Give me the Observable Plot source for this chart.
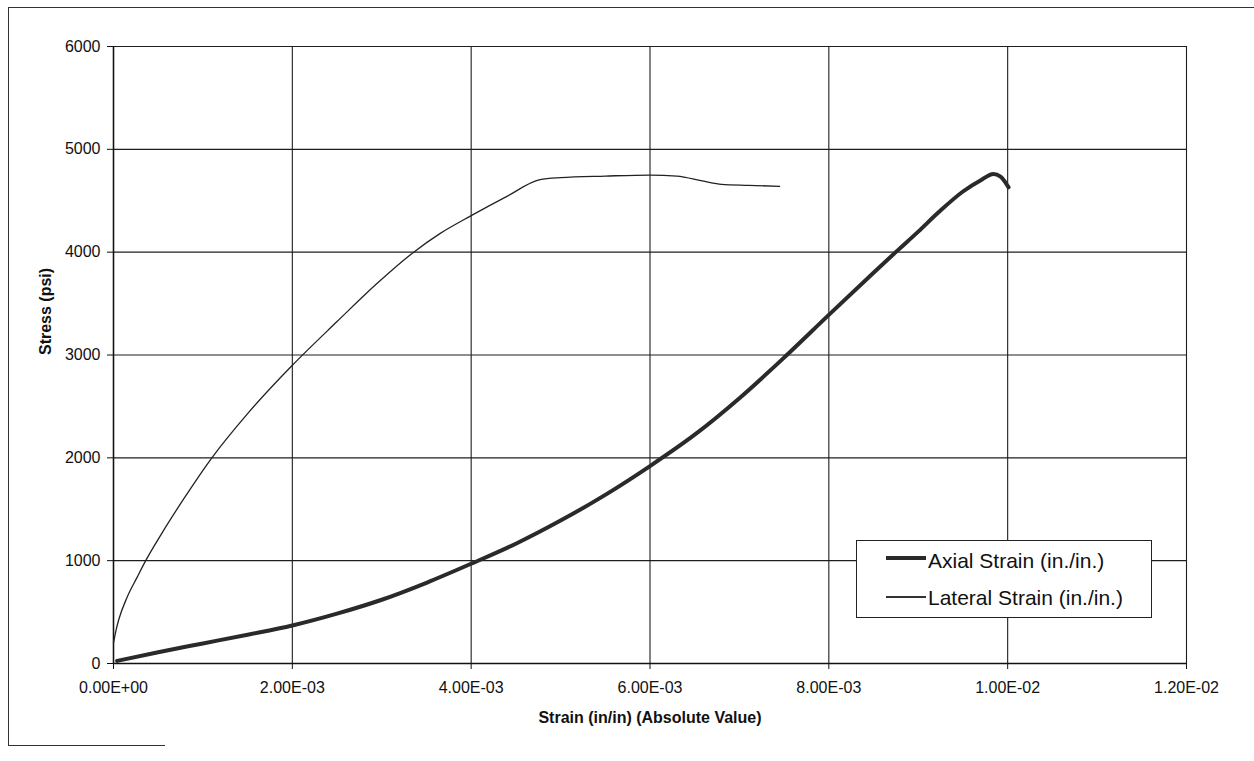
<!DOCTYPE html>
<html><head><meta charset="utf-8">
<script src="https://cdn.jsdelivr.net/npm/d3@7"></script>
<script src="https://cdn.jsdelivr.net/npm/@observablehq/plot@0.6"></script>
<style>
body{margin:0;background:#fff;font-family:"Liberation Sans",Arial,sans-serif;}
#wrap{position:relative;width:1254px;height:761px;overflow:hidden;background:#fff;}
#wrap svg{position:absolute;left:0;top:0;}
.frameL{position:absolute;left:8px;top:7px;width:1300px;height:738px;border-left:1.5px solid #333;border-top:1.5px solid #333;}
.frameB{position:absolute;left:8px;top:745px;width:157px;height:0;border-top:1.5px solid #333;}
#legend{position:absolute;left:856px;top:540px;width:294px;height:76px;border:1.5px solid #222;background:#fff;font-size:21px;color:#111;}
#legend .row{position:absolute;left:0;height:26px;line-height:26px;white-space:nowrap;}
#legend .sw{position:absolute;left:29px;width:40px;}
#legend .lbl{position:absolute;left:71px;}
</style></head><body>
<div id="wrap"><div class="frameL"></div><div class="frameB"></div></div>
<script>
const xTicks = [0, 0.002, 0.004, 0.006, 0.008, 0.010, 0.012];
const yTicks = [0, 1000, 2000, 3000, 4000, 5000, 6000];

const axialStrain = [0.00004, 0.0005, 0.0010, 0.0015, 0.0020, 0.0025, 0.0030, 0.0035, 0.0040, 0.0045, 0.0050, 0.0055, 0.0060, 0.0065, 0.0070, 0.0075, 0.0080, 0.0085, 0.00876, 0.0090, 0.00923, 0.0095, 0.0097, 0.00984, 0.00992, 0.01001];
const axialStress = [25, 110, 195, 280, 370, 485, 620, 785, 970, 1165, 1390, 1640, 1920, 2225, 2580, 2975, 3390, 3800, 4010, 4200, 4390, 4590, 4700, 4760, 4735, 4630];

const lateralStrain = [0, 0.00003, 0.00006, 0.00015, 0.000265, 0.000357, 0.00055, 0.000785, 0.0011, 0.0015, 0.0020, 0.0025, 0.00294, 0.00335, 0.00365, 0.0040, 0.0044, 0.00477, 0.0050, 0.0055, 0.0060, 0.0063, 0.0066, 0.0068, 0.0071, 0.00745];
const lateralStress = [200, 330, 430, 640, 840, 995, 1280, 1600, 2000, 2430, 2900, 3325, 3690, 3995, 4180, 4355, 4543, 4705, 4725, 4740, 4750, 4740, 4690, 4660, 4650, 4640];

const seriesNames = ["Axial Strain (in./in.)", "Lateral Strain (in./in.)"];
const xTitle = "Strain (in/in) (Absolute Value)";
const yTitle = "Stress (psi)";

function fmtE(d) {
  let [m, e] = d.toExponential(2).split("e");
  const s = e[0] === "-" ? "-" : "+";
  e = e.replace(/[+-]/, "");
  return m + "E" + s + e.padStart(2, "0");
}

const axial = axialStrain.map((x, i) => ({x, y: axialStress[i]}));
const lateral = lateralStrain.map((x, i) => ({x, y: lateralStress[i]}));

const chart = Plot.plot({
  width: 1254, height: 761,
  marginLeft: 113, marginRight: 68, marginTop: 46, marginBottom: 98,
  x: {domain: [0, 0.012]},
  y: {domain: [0, 6000]},
  style: {fontFamily: "Liberation Sans, Arial, sans-serif", fontSize: "16px", color: "#111", background: "transparent"},
  marks: [
    Plot.gridX(xTicks, {stroke: "#1e1e1e", strokeOpacity: 1, strokeWidth: 1.1}),
    Plot.gridY(yTicks, {stroke: "#1e1e1e", strokeOpacity: 1, strokeWidth: 1.1}),
    Plot.axisX(xTicks, {tickFormat: fmtE, tickSize: 6, tickPadding: 12, label: null, fontSize: 16, stroke: "#111"}),
    Plot.axisY(yTicks, {tickFormat: d => String(d), tickSize: 6, tickPadding: 7, label: null, fontSize: 16, stroke: "#111"}),
    Plot.ruleX([0], {stroke: "#111", strokeWidth: 1.5}),
    Plot.ruleY([0], {stroke: "#111", strokeWidth: 1.5}),
    Plot.line(lateral, {x: "x", y: "y", stroke: "#222", strokeWidth: 1.3, curve: "monotone-x"}),
    Plot.line(axial, {x: "x", y: "y", stroke: "#2a2a2a", strokeWidth: 4, curve: "monotone-x"}),
    Plot.text([xTitle], {text: d => d, frameAnchor: "bottom", dy: 59, fontWeight: "bold", fontSize: 16, fill: "#111"}),
    Plot.text([yTitle], {text: d => d, frameAnchor: "left", dx: -68, rotate: -90, fontWeight: "bold", fontSize: 16, fill: "#111"})
  ]
});
const wrap = document.getElementById("wrap");
wrap.appendChild(chart);

const legend = document.createElement("div");
legend.id = "legend";
const widths = [4, 1.3];
const tops = [7, 44];
seriesNames.forEach((name, i) => {
  const row = document.createElement("div");
  row.className = "row";
  row.style.top = tops[i] + "px";
  row.style.width = "290px";
  const sw = document.createElement("div");
  sw.className = "sw";
  sw.style.top = (12 - widths[i] / 2 + (i === 0 ? -2 : 0)) + "px";
  sw.style.height = widths[i] + "px";
  sw.style.background = i === 0 ? "#2a2a2a" : "#333";
  const lbl = document.createElement("span");
  lbl.className = "lbl";
  lbl.textContent = name;
  row.appendChild(sw);
  row.appendChild(lbl);
  legend.appendChild(row);
});
wrap.appendChild(legend);
</script>
</body></html>
